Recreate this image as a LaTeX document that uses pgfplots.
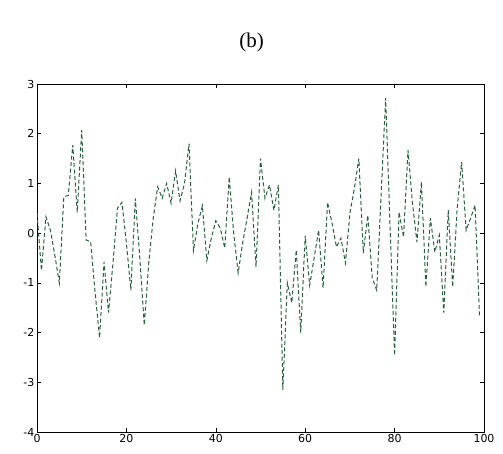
\documentclass[border=0pt]{standalone}
\usepackage{fontspec}
\usepackage{pgfplots}
\pgfplotsset{compat=1.18}
\newfontfamily\dejavu{DejaVu Sans}
\newfontfamily\titlefont{Liberation Serif}
\definecolor{trace}{RGB}{40,95,62}

\begin{document}
\begin{tikzpicture}
\path[use as bounding box] (-37pt,-22pt) rectangle (466pt,432pt);
\begin{axis}[
  at={(0pt,0pt)}, anchor=south west,
  scale only axis, width=447pt, height=348pt,
  xmin=0, xmax=100, ymin=-4, ymax=3,
  xtick={0,20,40,60,80,100},
  ytick={-4,-3,-2,-1,0,1,2,3},
  tick align=inside,
  major tick length=4pt,
  tick style={black, line width=0.6pt},
  axis line style={black, line width=0.8pt},
  /pgf/number format/assume math mode=true,
  tick label style={font=\dejavu\fontsize{11}{11}\selectfont},
  xticklabel style={yshift=1pt},
  yticklabel style={xshift=1pt},
]
  % dashed random walk
  \addplot[trace, line width=1pt, dash pattern=on 4pt off 2.5pt] coordinates {
    (0,0.40) (1,-0.75) (2,0.33) (3,0.06) (4,-0.45) (5,-1.00) (6,0.73) (7,0.76)
    (8,1.77) (9,0.42) (10,2.07) (11,-0.14) (12,-0.17) (13,-1.20) (14,-2.10)
    (15,-0.58) (16,-1.60) (17,-0.60) (18,0.50) (19,0.62) (20,-0.20) (21,-1.15)
    (22,0.70) (23,-0.50) (24,-1.85) (25,-0.60) (26,0.30) (27,0.93) (28,0.70)
    (29,1.00) (30,0.60) (31,1.25) (32,0.65) (33,1.00) (34,1.80) (35,-0.35)
    (36,0.20) (37,0.55) (38,-0.55) (39,-0.10) (40,0.25) (41,0.10) (42,-0.30)
    (43,1.13) (44,0.00) (45,-0.80) (46,-0.20) (47,0.30) (48,0.82) (49,-0.68)
    (50,1.50) (51,0.70) (52,0.97) (53,0.46) (54,0.97) (55,-3.15) (56,-1.00)
    (57,-1.40) (58,-0.34) (59,-2.00) (60,-0.05) (61,-1.05) (62,-0.50) (63,0.06)
    (64,-1.10) (65,0.62) (66,0.20) (67,-0.28) (68,-0.10) (69,-0.60) (70,0.40)
    (71,0.90) (72,1.50) (73,-0.40) (74,0.36) (75,-0.90) (76,-1.15) (77,0.80)
    (78,2.72) (79,0.10) (80,-2.46) (81,0.42) (82,-0.08) (83,1.67) (84,0.60)
    (85,-0.18) (86,1.03) (87,-1.08) (88,0.30) (89,-0.38) (90,-0.04) (91,-1.60)
    (92,0.46) (93,-1.08) (94,0.50) (95,1.43) (96,0.06) (97,0.30) (98,0.56)
    (99,-1.69)
  };
\end{axis}
\node[font=\titlefont\fontsize{21}{21}\selectfont] at (214.5pt,390pt) {(b)};
\end{tikzpicture}
\end{document}
